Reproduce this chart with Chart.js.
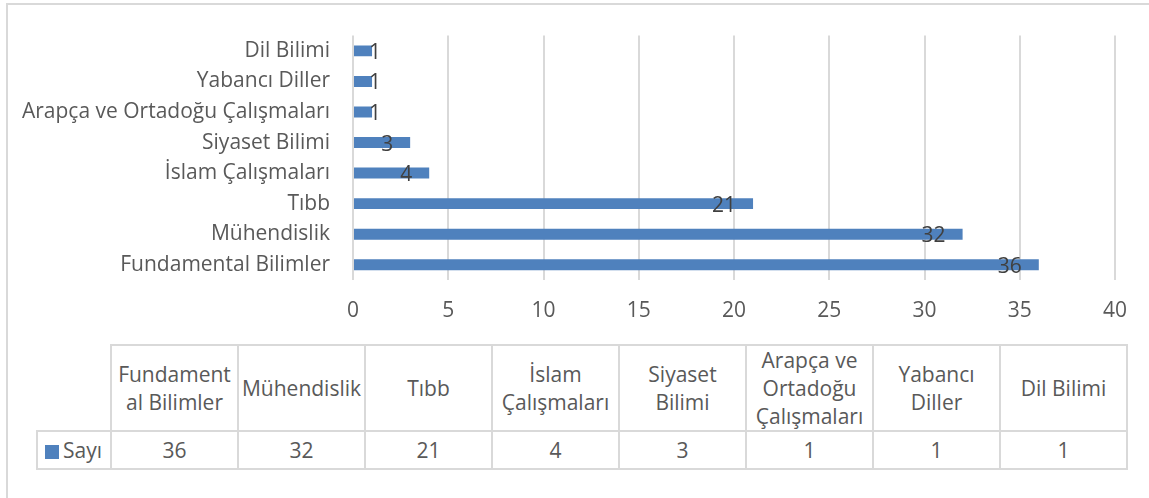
<!DOCTYPE html>
<html>
<head>
<meta charset="utf-8">
<script src="https://cdn.jsdelivr.net/npm/chart.js@4.4.1/dist/chart.umd.min.js"></script>
<style>
    body { margin: 0; background: #fff; font-family: 'Open Sans', sans-serif; }
    #frame {
        position: absolute; left: 6px; top: 3px; width: 1200px; height: 600px;
        border-top: 2px solid #d9d9d9; border-left: 2px solid #d9d9d9;
    }
    #chartBox { position: absolute; left: 0; top: 0; width: 1149px; height: 330px; }
    #dataTable {
        position: absolute; left: 36px; top: 344px;
        border-collapse: collapse; table-layout: fixed;
        color: #595959; font-size: 21px;
    }
    #dataTable td {
        border: 2px solid #d9d9d9; padding: 0; text-align: center;
        vertical-align: middle; line-height: 28px; white-space: nowrap;
    }
    #dataTable td.corner { border: none; }
    #dataTable tr.head td { height: 84px; }
    #dataTable tr.vals td { height: 36px; }
    #dataTable td.key { text-align: left; padding-left: 7px; }
    .swatch { display: inline-block; width: 14px; height: 14px; background: #4f81bd; margin-right: 4px; vertical-align: -1px; }
</style>
</head>
<body>
<div id="frame"></div>
<div id="chartBox"><canvas id="barChart"></canvas></div>
<table id="dataTable"></table>
<script>
// Data
const categories = ['Fundamental Bilimler', 'Mühendislik', 'Tıbb', 'İslam Çalışmaları',
    'Siyaset Bilimi', 'Arapça ve Ortadoğu Çalışmaları', 'Yabancı Diller', 'Dil Bilimi'];
const values = [36, 32, 21, 4, 3, 1, 1, 1];
const seriesName = 'Sayı';
// header text of the data table, wrapped as in the picture
const tableHeaders = [['Fundament', 'al Bilimler'], ['Mühendislik'], ['Tıbb'], ['İslam', 'Çalışmaları'],
    ['Siyaset', 'Bilimi'], ['Arapça ve', 'Ortadoğu', 'Çalışmaları'], ['Yabancı', 'Diller'], ['Dil Bilimi']];

const BAR_COLOR = '#4f81bd';
const TEXT_COLOR = '#595959';
const FONT = "'Open Sans', sans-serif";

// value labels sitting inside the end of each bar
const barLabels = {
    id: 'barLabels',
    afterDatasetsDraw(chart) {
        const ctx = chart.ctx;
        const meta = chart.getDatasetMeta(0);
        const left = chart.chartArea.left;
        ctx.save();
        ctx.font = '21px ' + FONT;
        ctx.fillStyle = '#404040';
        ctx.textAlign = 'left';
        ctx.textBaseline = 'middle';
        meta.data.forEach((bar, i) => {
            const txt = String(values[i]);
            const w = ctx.measureText(txt).width;
            const x = Math.max(bar.x - 17 - w, left + 16);
            ctx.fillText(txt, x, bar.y + 2);
        });
        ctx.restore();
    }
};

const ctx = document.getElementById('barChart').getContext('2d');
new Chart(ctx, {
    type: 'bar',
    data: {
        labels: categories,
        datasets: [{
            label: seriesName,
            data: values,
            backgroundColor: BAR_COLOR,
            barPercentage: 0.36,
            categoryPercentage: 1
        }]
    },
    options: {
        indexAxis: 'y',
        responsive: true,
        maintainAspectRatio: false,
        animation: false,
        layout: { padding: { top: 33, right: 34, left: 0, bottom: 0 } },
        plugins: {
            legend: { display: false },
            tooltip: { enabled: false }
        },
        scales: {
            x: {
                min: 0, max: 40,
                border: { display: false },
                grid: { color: '#d9d9d9', lineWidth: 2, drawTicks: false },
                ticks: { stepSize: 5, color: TEXT_COLOR, font: { family: FONT, size: 21 }, padding: 18 },
                afterFit(scale) { scale.height = 50; }
            },
            y: {
                reverse: true,
                border: { display: false },
                grid: { display: false, drawTicks: false },
                ticks: { color: TEXT_COLOR, font: { family: FONT, size: 21 }, padding: 23 },
                afterFit(scale) { scale.width = 353; }
            }
        }
    },
    plugins: [barLabels]
});

// Data table under the chart
const table = document.getElementById('dataTable');
let html = '<colgroup><col style="width:74px">' + categories.map(() => '<col style="width:127px">').join('') + '</colgroup>';
html += '<tr class="head"><td class="corner"></td>' + tableHeaders.map(h => '<td>' + h.join('<br>') + '</td>').join('') + '</tr>';
html += '<tr class="vals"><td class="key"><span class="swatch"></span>' + seriesName + '</td>' +
    values.map(v => '<td>' + v + '</td>').join('') + '</tr>';
table.innerHTML = html;
</script>
</body>
</html>
